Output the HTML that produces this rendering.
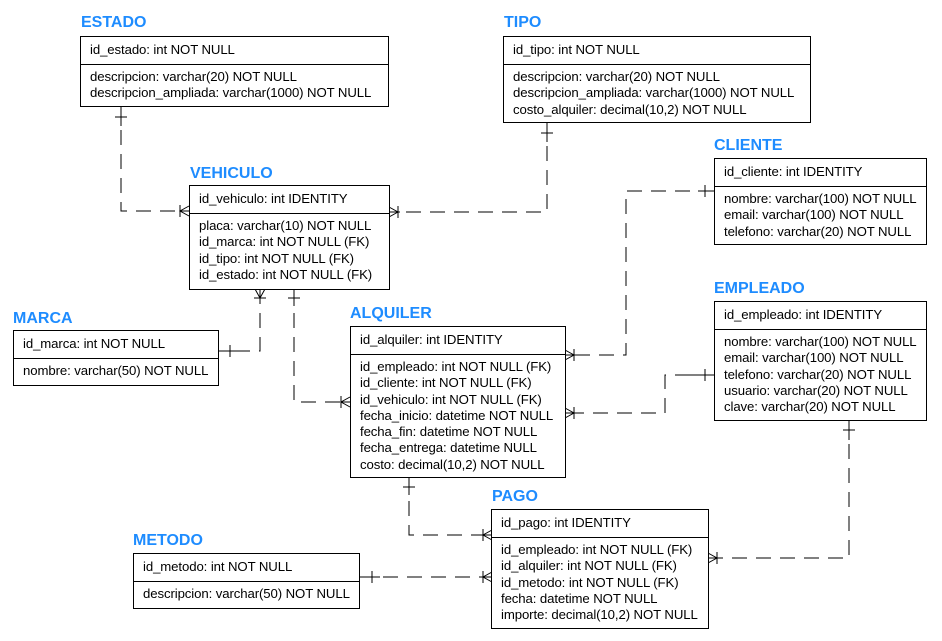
<!DOCTYPE html>
<html><head><meta charset="utf-8"><style>
body{margin:0;width:942px;height:641px;background:#fff;position:relative;overflow:hidden;font-family:"Liberation Sans",sans-serif;}
.t{position:absolute;font-weight:bold;font-size:16px;color:#1e8cff;line-height:16px;}
.b{position:absolute;border:1px solid #000;background:#fff;font-size:13.2px;letter-spacing:-0.1px;color:#000;box-sizing:border-box;}
.h{border-bottom:1px solid #000;height:27px;line-height:26px;padding-left:9px;white-space:nowrap;}
.r{padding:4px 0 0 9px;line-height:16.3px;white-space:nowrap;}
svg{position:absolute;left:0;top:0;}
</style></head><body>
<svg width="942" height="641">
<g fill="none" stroke="#000" stroke-width="1" stroke-dasharray="15,9">
<path d="M121,106V211H189"/>
<path d="M547,122V212H389"/>
<path d="M260,289V351H218"/>
<path d="M294,289V402H350"/>
<path d="M714,191H626V355H565"/>
<path d="M714,375H665V413H565"/>
<path d="M409,477V535H492"/>
<path d="M849,420V558H708"/>
<path d="M359,577H492"/>
</g>
<g fill="none" stroke="#000" stroke-width="1">
<path d="M121,106V126M115,117H127"/>
<path d="M189,206L180,211L189,216M180,205V217M180,211H189"/>
<path d="M547,122V142M541,133H553"/>
<path d="M389,207L398,212L389,217M398,206V218M389,212H400"/>
<path d="M255,289L260,298L265,289M254,298H266M260,289V300"/>
<path d="M218,351H238M230,345V357"/>
<path d="M294,289V306M288,298H300"/>
<path d="M350,397L341,402L350,407M341,396V408M341,402H350"/>
<path d="M714,191H698M705,185V197"/>
<path d="M565,350L574,355L565,360M574,349V361M565,355H580"/>
<path d="M714,375H690M705,369V381"/>
<path d="M565,408L574,413L565,418M574,407V419M565,413H580"/>
<path d="M409,477V495M403,487H415"/>
<path d="M492,530L483,535L492,540M483,529V541M483,535H492"/>
<path d="M849,420V440M843,430H855"/>
<path d="M708,553L717,558L708,563M717,552V564M708,558H722"/>
<path d="M359,577H380M372,571V583"/>
<path d="M492,572L483,577L492,582M483,571V583M483,577H492"/>
</g>
</svg>

<div class="t" style="left:81px;top:15px">ESTADO</div>
<div class="b" style="left:80px;top:36px;width:309px;height:71px"><div class="h">id_estado: int NOT NULL</div><div class="r">descripcion: varchar(20) NOT NULL<br>descripcion_ampliada: varchar(1000) NOT NULL</div></div>

<div class="t" style="left:504px;top:15px">TIPO</div>
<div class="b" style="left:503px;top:36px;width:308px;height:87px"><div class="h">id_tipo: int NOT NULL</div><div class="r">descripcion: varchar(20) NOT NULL<br>descripcion_ampliada: varchar(1000) NOT NULL<br>costo_alquiler: decimal(10,2) NOT NULL</div></div>

<div class="t" style="left:190px;top:166px">VEHICULO</div>
<div class="b" style="left:189px;top:185px;width:201px;height:105px"><div class="h">id_vehiculo: int IDENTITY</div><div class="r">placa: varchar(10) NOT NULL<br>id_marca: int NOT NULL (FK)<br>id_tipo: int NOT NULL (FK)<br>id_estado: int NOT NULL (FK)</div></div>

<div class="t" style="left:714px;top:138px">CLIENTE</div>
<div class="b" style="left:714px;top:158px;width:213px;height:87px"><div class="h">id_cliente: int IDENTITY</div><div class="r">nombre: varchar(100) NOT NULL<br>email: varchar(100) NOT NULL<br>telefono: varchar(20) NOT NULL</div></div>

<div class="t" style="left:13px;top:311px">MARCA</div>
<div class="b" style="left:13px;top:330px;width:206px;height:56px"><div class="h">id_marca: int NOT NULL</div><div class="r">nombre: varchar(50) NOT NULL</div></div>

<div class="t" style="left:714px;top:281px">EMPLEADO</div>
<div class="b" style="left:714px;top:301px;width:213px;height:120px"><div class="h">id_empleado: int IDENTITY</div><div class="r">nombre: varchar(100) NOT NULL<br>email: varchar(100) NOT NULL<br>telefono: varchar(20) NOT NULL<br>usuario: varchar(20) NOT NULL<br>clave: varchar(20) NOT NULL</div></div>

<div class="t" style="left:350px;top:306px">ALQUILER</div>
<div class="b" style="left:350px;top:326px;width:216px;height:152px"><div class="h">id_alquiler: int IDENTITY</div><div class="r">id_empleado: int NOT NULL (FK)<br>id_cliente: int NOT NULL (FK)<br>id_vehiculo: int NOT NULL (FK)<br>fecha_inicio: datetime NOT NULL<br>fecha_fin: datetime NOT NULL<br>fecha_entrega: datetime NULL<br>costo: decimal(10,2) NOT NULL</div></div>

<div class="t" style="left:492px;top:489px">PAGO</div>
<div class="b" style="left:491px;top:509px;width:218px;height:120px"><div class="h">id_pago: int IDENTITY</div><div class="r">id_empleado: int NOT NULL (FK)<br>id_alquiler: int NOT NULL (FK)<br>id_metodo: int NOT NULL (FK)<br>fecha: datetime NOT NULL<br>importe: decimal(10,2) NOT NULL</div></div>

<div class="t" style="left:133px;top:533px">METODO</div>
<div class="b" style="left:133px;top:553px;width:227px;height:56px"><div class="h">id_metodo: int NOT NULL</div><div class="r">descripcion: varchar(50) NOT NULL</div></div>
</body></html>
